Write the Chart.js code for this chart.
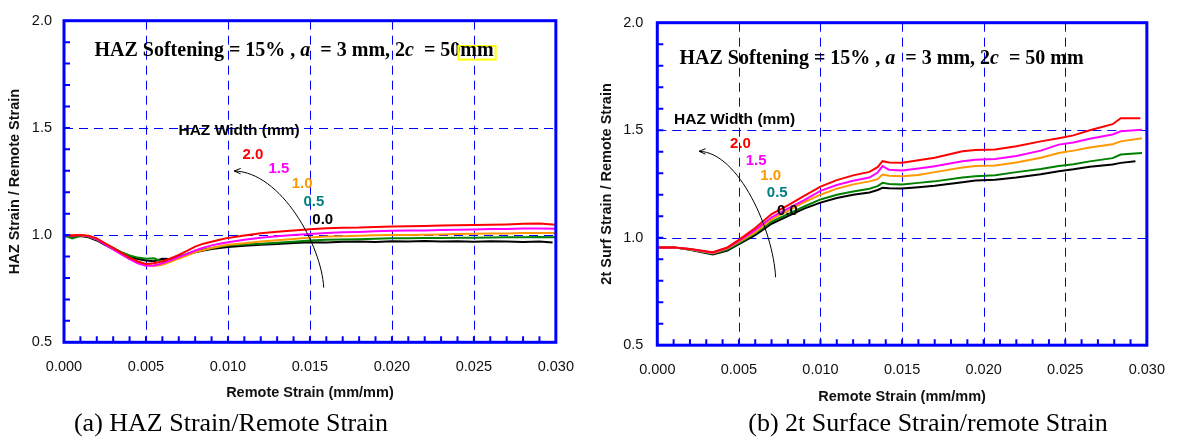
<!DOCTYPE html>
<html>
<head>
<meta charset="utf-8">
<script src="https://cdn.jsdelivr.net/npm/chart.js@4.4.0/dist/chart.umd.min.js"></script>
<style>
  body { margin: 0; background: #fff; width: 1181px; height: 439px; overflow: hidden; position: relative; }
  .panel { position: absolute; top: 0; height: 410px; }
  .cap { position: absolute; top: 410px; font-family: "Liberation Serif", "Times New Roman", serif;
         font-size: 26px; line-height: 26px; white-space: nowrap; color: #000; transform: translateX(-50%); }
</style>
</head>
<body>
<div class="panel" style="left:0;width:590px"><canvas id="chartA"></canvas></div>
<div class="panel" style="left:590px;width:591px"><canvas id="chartB"></canvas></div>
<div class="cap" style="left:231px">(a) HAZ Strain/Remote Strain</div>
<div class="cap" style="left:928px">(b) 2t Surface Strain/remote Strain</div>
<script>
// HAZ widths (mm) and colours, same order in both panels
const hazWidths = ['2.0', '1.5', '1.0', '0.5', '0.0'];
const lineColors = ['#FF0000', '#FF00FF', '#FF9900', '#008000', '#000000'];
const labelColors = ['#FF0000', '#FF00FF', '#FF9900', '#008080', '#000000'];

const xTicks = [0, 0.005, 0.01, 0.015, 0.02, 0.025, 0.03];
const yTicks = [0.5, 1.0, 1.5, 2.0];

// (a) HAZ strain / remote strain
const leftX = [0, 0.0005, 0.001, 0.0015, 0.002, 0.0025, 0.003, 0.0035, 0.004, 0.0045, 0.005, 0.0055, 0.006,
  0.0065, 0.007, 0.0075, 0.008, 0.0085, 0.009, 0.0095, 0.010, 0.011, 0.012, 0.013, 0.014, 0.015, 0.016, 0.017,
  0.018, 0.019, 0.020, 0.021, 0.022, 0.023, 0.024, 0.025, 0.026, 0.027, 0.028, 0.029, 0.030];
const leftEnd = [0.030, 0.030, 0.030, 0.030, 0.0298];
const leftRed = [1.0, 0.998, 1.0, 0.997, 0.985, 0.962, 0.94, 0.917, 0.895, 0.877, 0.865, 0.869, 0.878, 0.891, 0.908,
  0.926, 0.946, 0.96, 0.969, 0.978, 0.987, 0.998, 1.009, 1.016, 1.021, 1.027, 1.032, 1.034, 1.035, 1.038, 1.04,
  1.041, 1.043, 1.045, 1.046, 1.047, 1.048, 1.05, 1.053, 1.054, 1.048];
const leftMagenta = [1.0, 0.997, 1.0, 0.994, 0.98, 0.957, 0.933, 0.91, 0.888, 0.868, 0.857, 0.858, 0.868, 0.882,
  0.897, 0.912, 0.928, 0.941, 0.952, 0.96, 0.967, 0.978, 0.988, 0.995, 1.0, 1.005, 1.01, 1.013, 1.015, 1.018, 1.02,
  1.021, 1.022, 1.024, 1.025, 1.026, 1.028, 1.029, 1.031, 1.031, 1.03];
const leftOrange = [1.0, 1.0, 1.0, 0.995, 0.982, 0.96, 0.937, 0.913, 0.892, 0.875, 0.862, 0.856, 0.862, 0.875, 0.89,
  0.905, 0.92, 0.93, 0.94, 0.948, 0.955, 0.962, 0.97, 0.976, 0.982, 0.989, 0.993, 0.995, 0.997, 0.999, 1.0, 1.001,
  1.002, 1.003, 1.005, 1.006, 1.007, 1.008, 1.01, 1.01, 1.01];
const leftGreen = [1.0, 0.985, 0.997, 0.993, 0.978, 0.96, 0.94, 0.92, 0.905, 0.895, 0.89, 0.892, 0.875, 0.888, 0.9,
  0.912, 0.925, 0.933, 0.94, 0.946, 0.952, 0.956, 0.96, 0.964, 0.969, 0.975, 0.978, 0.979, 0.981, 0.983, 0.985,
  0.985, 0.986, 0.987, 0.988, 0.988, 0.989, 0.99, 0.99, 0.991, 0.99];
const leftBlack = [0.995, 0.993, 0.996, 0.99, 0.975, 0.955, 0.935, 0.915, 0.9, 0.888, 0.882, 0.878, 0.89, 0.888, 0.9,
  0.91, 0.92, 0.928, 0.935, 0.94, 0.945, 0.95, 0.955, 0.958, 0.963, 0.967, 0.966, 0.969, 0.97, 0.968, 0.971, 0.97,
  0.972, 0.97, 0.971, 0.969, 0.971, 0.97, 0.968, 0.97, 0.966];

// (b) 2t surface strain / remote strain
const rightX = [0, 0.001, 0.002, 0.0034, 0.0043, 0.005, 0.006, 0.007, 0.008, 0.009, 0.010, 0.011, 0.012, 0.013,
  0.0135, 0.0138, 0.0142, 0.015, 0.016, 0.017, 0.0187, 0.0195, 0.0207, 0.022, 0.0235, 0.0246, 0.0255, 0.0265,
  0.0279, 0.0284, 0.0297];
const rightEnd = [0.0296, 0.0297, 0.0297, 0.0297, 0.0293];
const rightRed = [0.955, 0.955, 0.948, 0.932, 0.955, 0.99, 1.045, 1.11, 1.15, 1.195, 1.238, 1.268, 1.29, 1.306,
  1.328, 1.356, 1.35, 1.349, 1.36, 1.372, 1.402, 1.408, 1.41, 1.425, 1.448, 1.463, 1.476, 1.5, 1.528, 1.556, 1.556];
const rightMagenta = [0.955, 0.955, 0.947, 0.93, 0.953, 0.985, 1.035, 1.095, 1.135, 1.175, 1.218, 1.245, 1.265,
  1.28, 1.303, 1.333, 1.316, 1.313, 1.322, 1.332, 1.356, 1.363, 1.366, 1.38, 1.405, 1.433, 1.443, 1.46, 1.48,
  1.495, 1.502];
const rightOrange = [0.955, 0.955, 0.946, 0.928, 0.95, 0.98, 1.025, 1.085, 1.125, 1.165, 1.2, 1.228, 1.248, 1.262,
  1.272, 1.294, 1.288, 1.286, 1.292, 1.305, 1.326, 1.333, 1.336, 1.35, 1.372, 1.394, 1.405, 1.42, 1.435, 1.448,
  1.463];
const rightGreen = [0.955, 0.955, 0.945, 0.925, 0.945, 0.975, 1.02, 1.075, 1.11, 1.145, 1.178, 1.2, 1.215, 1.228,
  1.24, 1.255, 1.25, 1.248, 1.255, 1.262, 1.28, 1.286, 1.29, 1.305, 1.32, 1.333, 1.342, 1.355, 1.37, 1.387, 1.394];
const rightBlack = [0.955, 0.955, 0.944, 0.922, 0.94, 0.97, 1.012, 1.065, 1.1, 1.135, 1.163, 1.185, 1.2, 1.21,
  1.222, 1.232, 1.23, 1.229, 1.235, 1.242, 1.258, 1.266, 1.27, 1.28, 1.295, 1.309, 1.318, 1.33, 1.34, 1.348, 1.356];

const sans = '"Liberation Sans", Arial, sans-serif';
const serif = '"Liberation Serif", "Times New Roman", serif';

// dashed blue grid under the lines; frame, minor ticks and notes on top
const framePlugin = {
  id: 'frame',
  beforeDatasetsDraw(chart) {
    const { ctx, chartArea: a, scales: { x, y } } = chart;
    ctx.save();
    ctx.strokeStyle = '#0000FF';
    ctx.lineWidth = 1;
    ctx.setLineDash([9, 6]);
    ctx.beginPath();
    xTicks.forEach(v => {
      const px = Math.round(x.getPixelForValue(v)) + 0.5;
      ctx.moveTo(px, a.top);
      ctx.lineTo(px, a.bottom);
    });
    yTicks.forEach(v => {
      const py = Math.round(y.getPixelForValue(v)) + 0.5;
      ctx.moveTo(a.left, py);
      ctx.lineTo(a.right, py);
    });
    ctx.stroke();
    ctx.restore();
  },
  afterDatasetsDraw(chart, args, o) {
    const { ctx, chartArea: a, scales: { x, y } } = chart;
    ctx.save();
    ctx.strokeStyle = '#0000FF';
    ctx.lineWidth = 2;
    ctx.beginPath();
    for (let i = 1; i < 30; i++) {
      const px = x.getPixelForValue(i / 1000);
      ctx.moveTo(px, a.bottom);
      ctx.lineTo(px, a.bottom - 6);
    }
    for (let i = 6; i < 20; i++) {
      const py = y.getPixelForValue(i / 10);
      ctx.moveTo(a.left, py);
      ctx.lineTo(a.left + 6, py);
    }
    ctx.stroke();
    ctx.lineWidth = 3;
    ctx.strokeRect(a.left, a.top, a.right - a.left, a.bottom - a.top);

    // title line
    let cx = x.getPixelForValue(o.title[0]);
    const by = y.getPixelForValue(o.title[1]);
    ctx.fillStyle = '#000';
    ctx.textAlign = 'left';
    ctx.textBaseline = 'alphabetic';
    o.segments.forEach(s => {
      ctx.font = (s.it ? 'italic ' : '') + 'bold 20px ' + serif;
      const w = ctx.measureText(s.t).width;
      if (s.box) {
        ctx.strokeStyle = '#FFFF00';
        ctx.lineWidth = 2;
        ctx.strokeRect(cx - 2, by - 10, w + 4, 13.5);
      }
      ctx.fillText(s.t, cx, by);
      cx += w;
    });

    // HAZ width heading and labels
    ctx.textAlign = 'center';
    ctx.textBaseline = 'middle';
    ctx.font = 'bold 15.5px ' + sans;
    ctx.fillText('HAZ Width (mm)', x.getPixelForValue(o.heading[0]), y.getPixelForValue(o.heading[1]));
    ctx.font = 'bold 15px ' + sans;
    hazWidths.forEach((w, k) => {
      ctx.fillStyle = labelColors[k];
      ctx.fillText(w, x.getPixelForValue(o.labels[k][0]), y.getPixelForValue(o.labels[k][1]));
    });

    // curved arrow
    const p = o.arrow.map(q => [x.getPixelForValue(q[0]), y.getPixelForValue(q[1])]);
    ctx.strokeStyle = '#000';
    ctx.lineWidth = 1;
    ctx.beginPath();
    ctx.moveTo(p[0][0], p[0][1]);
    ctx.bezierCurveTo(p[1][0], p[1][1], p[2][0], p[2][1], p[3][0], p[3][1]);
    ctx.stroke();
    const ang = Math.atan2(p[0][1] - p[1][1], p[0][0] - p[1][0]);
    ctx.beginPath();
    ctx.moveTo(p[0][0] - 7 * Math.cos(ang - 0.4), p[0][1] - 7 * Math.sin(ang - 0.4));
    ctx.lineTo(p[0][0], p[0][1]);
    ctx.lineTo(p[0][0] - 7 * Math.cos(ang + 0.4), p[0][1] - 7 * Math.sin(ang + 0.4));
    ctx.stroke();
    ctx.restore();
  }
};

function makeChart(id, xs, ends, ys, yTitle, c) {
  const datasets = hazWidths.map((w, k) => ({
    label: w + ' mm',
    data: xs.map((x, i) => ({ x: i === xs.length - 1 ? ends[k] : x, y: ys[k][i] })),
    borderColor: lineColors[k],
    backgroundColor: lineColors[k],
    borderWidth: 2,
    pointRadius: 0,
    tension: 0,
    fill: false
  }));

  const config = {
    type: 'line',
    data: { datasets: datasets },
    options: {
      responsive: true,
      maintainAspectRatio: false,
      animation: false,
      devicePixelRatio: 1,
      layout: { padding: { left: 0, right: c.padR, top: c.padT, bottom: c.padB } },
      plugins: {
        legend: { display: false },
        tooltip: { enabled: false },
        frame: c.notes
      },
      scales: {
        x: {
          type: 'linear',
          min: xTicks[0],
          max: xTicks[xTicks.length - 1],
          afterFit: s => { s.height = c.xH; },
          afterBuildTicks: s => { s.ticks = xTicks.map(v => ({ value: v })); },
          ticks: {
            padding: 16, color: '#111', maxRotation: 0, autoSkip: false,
            font: { family: sans, size: 14.5 },
            callback: v => v.toFixed(3)
          },
          grid: { display: false, drawTicks: false },
          border: { display: false },
          title: {
            display: true, text: 'Remote Strain (mm/mm)', color: '#111',
            font: { family: sans, size: 14.5, weight: 'bold' }, padding: { top: 0, bottom: 0 }
          }
        },
        y: {
          min: yTicks[0],
          max: yTicks[yTicks.length - 1],
          afterFit: s => { s.width = c.yW; },
          afterBuildTicks: s => { s.ticks = yTicks.map(v => ({ value: v })); },
          ticks: {
            padding: c.yPad, color: '#111',
            font: { family: sans, size: 14.5 },
            callback: v => v.toFixed(1)
          },
          grid: { display: false, drawTicks: false },
          border: { display: false },
          title: {
            display: true, text: yTitle, color: '#111',
            font: { family: sans, size: 14.5, weight: 'bold' }, padding: { top: c.yTitlePad, bottom: 0 }
          }
        }
      }
    },
    plugins: [framePlugin]
  };
  return new Chart(id, config);
}

const titleSegs = (boxed) => [
  { t: 'HAZ Softening = 15% , ' },
  { t: 'a', it: true },
  { t: '  = 3 mm, 2' },
  { t: 'c', it: true },
  { t: boxed ? '  = 50' : '  = 50 ' },
  { t: 'mm', box: boxed }
];

makeChart('chartA', leftX, leftEnd, [leftRed, leftMagenta, leftOrange, leftGreen, leftBlack],
  'HAZ Strain / Remote Strain',
  {
    padR: 26, padT: 16.7, padB: 8, xH: 59.7, yW: 64, yPad: 12, yTitlePad: 6.3,
    notes: {
      title: [0.00186, 1.835],
      segments: titleSegs(true),
      heading: [0.01068, 1.488],
      labels: [[0.01152, 1.372], [0.01311, 1.309], [0.01452, 1.24], [0.01524, 1.153], [0.01578, 1.071]],
      arrow: [[0.01038, 1.299], [0.01326, 1.294], [0.01572, 0.948], [0.01584, 0.755]]
    }
  });

makeChart('chartB', rightX, rightEnd, [rightRed, rightMagenta, rightOrange, rightGreen, rightBlack],
  '2t Surf Strain / Remote Strain',
  {
    padR: 22.7, padT: 20.5, padB: 4.6, xH: 60.2, yW: 67.3, yPad: 14, yTitlePad: 8.3,
    notes: {
      title: [0.00136, 1.809],
      segments: titleSegs(false),
      heading: [0.00474, 1.549],
      labels: [[0.0051, 1.435], [0.00606, 1.359], [0.00695, 1.289], [0.00735, 1.209], [0.00798, 1.124]],
      arrow: [[0.00256, 1.402], [0.005, 1.397], [0.00711, 1.032], [0.00725, 0.816]]
    }
  });
</script>
</body>
</html>
